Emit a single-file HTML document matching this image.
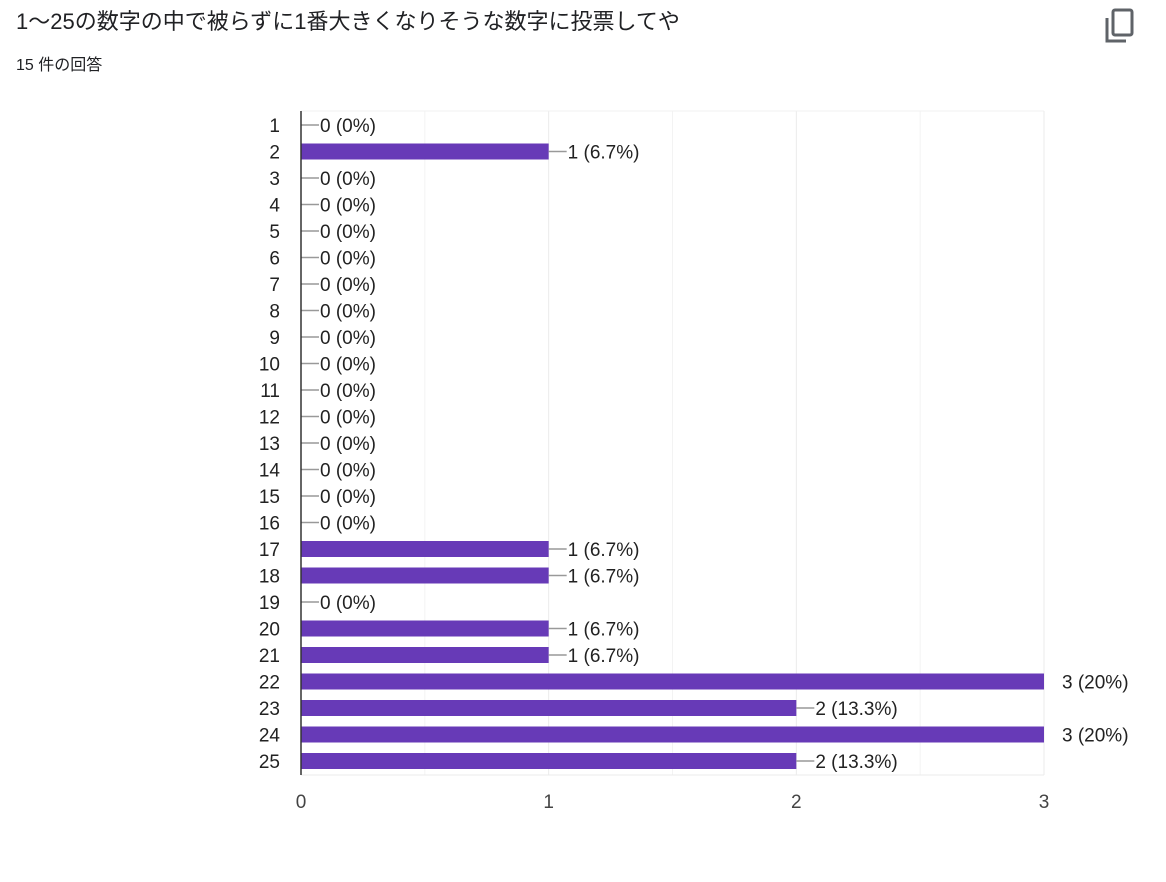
<!DOCTYPE html>
<html><head><meta charset="utf-8">
<style>
body{margin:0;width:1166px;height:882px;background:#fff;font-family:"Liberation Sans","Noto Sans CJK JP",sans-serif;overflow:hidden;position:relative}
.title{position:absolute;left:16px;top:4px;font-size:22px;color:#202124}
.sub{position:absolute;left:16px;top:51px;font-size:16px;color:#202124}
.copy{position:absolute;left:1104px;top:8px}
svg text{font-family:"Liberation Sans",sans-serif}
</style></head><body>
<div class="title">1〜25の数字の中で被らずに1番大きくなりそうな数字に投票してや</div>
<div class="sub">15 件の回答</div>
<svg class="copy" width="34" height="36"><rect x="9" y="2" width="19" height="25" rx="2" fill="none" stroke="#5f6368" stroke-width="3"/><path d="M3 10 V33 H22" fill="none" stroke="#5f6368" stroke-width="3"/></svg>
<svg id="chart" width="1166" height="882" style="position:absolute;left:0;top:0"></svg>
<script>
const categories=["1","2","3","4","5","6","7","8","9","10","11","12","13","14","15","16","17","18","19","20","21","22","23","24","25"];
const counts=[0,1,0,0,0,0,0,0,0,0,0,0,0,0,0,0,1,1,0,1,1,3,2,3,2];
const valueLabels=["0 (0%)","1 (6.7%)","0 (0%)","0 (0%)","0 (0%)","0 (0%)","0 (0%)","0 (0%)","0 (0%)","0 (0%)","0 (0%)","0 (0%)","0 (0%)","0 (0%)","0 (0%)","0 (0%)","1 (6.7%)","1 (6.7%)","0 (0%)","1 (6.7%)","1 (6.7%)","3 (20%)","2 (13.3%)","3 (20%)","2 (13.3%)"];
const xTicks=[0,1,2,3];
const svg=document.getElementById('chart');
const NS='http://www.w3.org/2000/svg';
const L=301,R=1044,T=111,B=775,xMax=3;
const x=v=>L+(R-L)*v/xMax;
const y=i=>125+i*26.5;
function el(t,a){const e=document.createElementNS(NS,t);for(const k in a)e.setAttribute(k,a[k]);svg.appendChild(e);return e;}
// gridlines
for(let v=0.5;v<=xMax;v+=0.5){const g=el('line',{x1:x(v),x2:x(v),y1:T,y2:B,stroke:v%1?'#f3f3f3':'#ebebeb','stroke-width':1});

}
const tl=el('line',{x1:L,x2:R,y1:T,y2:T,stroke:'#f0f0f0'});


const bl=el('line',{x1:L,x2:R,y1:B,y2:B,stroke:'#ebebeb'});


xTicks.forEach(v=>{const t=el('text',{x:x(v),y:808,'font-size':19,fill:'#444','text-anchor':'middle'});t.textContent=v;

});
categories.forEach((c,i)=>{
const cy=y(i);
const lab=el('text',{x:280,y:cy+7,'font-size':19,fill:'#222','text-anchor':'end'});lab.textContent=c;


const w=x(counts[i])-L;
if(w>0){const b=el('rect',{x:L,y:cy-8,width:w,height:16,fill:'#673ab7'});

}
const ex=x(counts[i]);
let tx;
if(counts[i]>=xMax){tx=ex+18;}else{const ln=el('line',{x1:ex,x2:ex+18,y1:cy,y2:cy,stroke:'#999','stroke-width':1.5});

tx=ex+19;}
const vt=el('text',{x:tx,y:cy+7,'font-size':19,fill:'#222'});vt.textContent=valueLabels[i];


});
const ax=el('line',{x1:L,x2:L,y1:T,y2:B,stroke:'#333','stroke-width':1.5});


</script>
</body></html>
